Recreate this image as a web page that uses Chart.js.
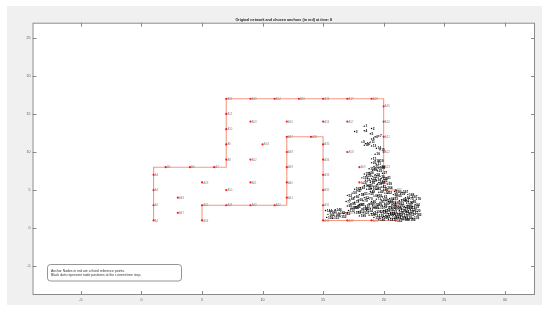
<!DOCTYPE html>
<html>
<head>
<meta charset="utf-8">
<script src="https://cdn.jsdelivr.net/npm/chart.js@4/dist/chart.umd.min.js"></script>
<style>
  html, body { margin: 0; padding: 0; background: #fff; }
  canvas { display: block; }
</style>
</head>
<body>
<canvas id="chart" width="550" height="313"></canvas>
<script>
const TITLE = 'Original network and chosen anchors (in red) at time: 8'
const NOTE_LINES = [
  'Anchor Nodes in red are a fixed reference points.',
  'Black dots represent node positions at the current time step.'
]

const X_TICKS = [-5, 0, 5, 10, 15, 20, 25, 30]
const Y_TICKS = [-5, 0, 5, 10, 15, 20, 25]

// corridor outline (red line)
const PATH_X = [1, 1, 7, 7, 20, 20, 21, 21, 15, 15, 12, 12, 5, 5]
const PATH_Y = [1, 8, 8, 17, 17, 5, 5, 1, 1, 12, 12, 3, 3, 1]

// anchors (red)
const ANCHOR_X = [1, 1, 1, 1, 2, 4, 6, 7, 7, 7, 7, 7, 9, 11, 13, 15, 17, 19, 20, 20, 20, 20, 20, 20, 21, 21, 21, 19, 17, 15, 15, 15, 15, 15, 15, 14, 12, 12, 12, 12, 12, 11, 9, 7, 5, 5,
  3, 3, 5, 7, 9, 9, 9, 10, 12, 15, 17, 17, 18, 18, 17]
const ANCHOR_Y = [1, 3, 5, 7, 8, 8, 8, 9, 11, 13, 15, 17, 17, 17, 17, 17, 17, 17, 16, 14, 12, 10, 8, 6, 5, 3, 1, 1, 1, 1, 3, 5, 7, 9, 11, 12, 12, 10, 8, 6, 4, 3, 3, 3, 3, 1,
  2, 4, 6, 5, 6, 9, 14, 11, 14, 14, 14, 10, 8, 6, 2]

// nodes (black) at the current time step
const NODE_X = [
  18.4, 19.0, 17.6, 18.4, 18.9, 19.3, 19.6, 19.0, 18.2, 18.5, 18.9, 18.4, 19.0, 19.4, 19.7, 19.3, 19.0, 19.3, 19.6, 19.0, 19.4, 19.2, 19.7,
  19.1, 19.5, 18.8, 19.9, 19.3, 18.6, 19.7, 20.2, 19.0, 18.5, 19.4, 19.9, 18.9, 18.3, 19.5, 20.3, 18.7, 19.2, 19.8, 18.1, 18.6, 19.4, 20.0, 17.8, 18.9, 19.6, 17.4, 18.3, 20.3, 17.0,
  18.0, 18.8, 19.5, 20.1, 20.8, 21.4,
  17.6, 18.4, 19.2, 19.9, 20.5, 21.1, 21.8, 22.4,
  17.2, 17.9, 18.7, 19.4, 20.2, 20.8, 21.5, 22.1, 22.7,
  16.9, 17.6, 18.3, 19.0, 19.7, 20.4, 21.0, 21.7, 22.3,
  17.3, 18.0, 18.8, 19.5, 20.1, 20.7, 21.3, 22.0, 22.6,
  17.0, 17.7, 18.5, 19.2, 19.9, 20.5, 21.2, 21.8, 22.4,
  17.4, 18.2, 18.9, 19.6, 20.3, 20.9, 21.5, 22.1,
  17.1, 17.9, 18.6, 19.3, 20.0, 20.6, 21.3, 21.9, 22.5,
  18.3, 19.0, 19.8, 20.4, 21.1, 21.7, 22.3,
  18.8, 19.5, 20.2, 20.8, 21.4, 22.0,
  19.2, 19.9, 20.6, 21.2, 21.8, 22.4,
  19.6, 20.4, 21.0, 21.6,
  15.2, 15.6, 16.0, 15.4, 15.9, 16.3, 15.3, 15.8, 16.4, 16.7,
  18.8, 19.6, 18.4, 19.1, 19.8, 18.2, 18.9, 19.6, 18.4, 19.0, 20.2, 17.6,
  20.9, 21.5, 22.0, 19.8, 20.5, 21.3, 21.9, 19.1, 20.2, 21.0, 21.7, 22.2, 19.7, 20.4, 21.0, 21.6, 22.6,
  20.0, 20.9, 21.5, 22.1, 18.3, 17.6, 18.0, 17.3, 17.9
]
const NODE_Y = [
  13.4, 13.1, 12.7, 12.8, 12.4, 12.0, 12.1, 11.7, 11.3, 11.1, 11.3, 10.9, 10.8, 10.5, 10.3, 9.7, 9.1, 8.9, 8.8, 8.6, 8.4, 8.1, 8.0,
  7.6, 7.5, 7.3, 7.2, 7.0, 6.9, 6.8, 6.6, 6.5, 6.3, 6.3, 6.2, 6.0, 5.9, 5.8, 5.8, 5.6, 5.5, 5.4, 5.3, 5.1, 5.1, 5.0, 4.9, 4.8, 4.7, 4.6, 4.5, 4.6, 4.3,
  4.4, 4.5, 4.3, 4.6, 4.4, 4.5,
  4.1, 4.0, 4.2, 4.1, 3.9, 4.2, 4.0, 4.1,
  3.8, 3.7, 3.9, 3.8, 3.6, 3.8, 3.7, 3.9, 3.8,
  3.5, 3.4, 3.6, 3.5, 3.4, 3.5, 3.3, 3.6, 3.4,
  3.2, 3.1, 3.2, 3.0, 3.2, 3.1, 3.2, 3.0, 3.1,
  2.9, 2.8, 2.9, 2.7, 2.9, 2.8, 2.9, 2.7, 2.8,
  2.6, 2.5, 2.6, 2.6, 2.4, 2.6, 2.5, 2.6,
  2.3, 2.2, 2.3, 2.2, 2.3, 2.1, 2.3, 2.2, 2.3,
  2.0, 1.9, 2.0, 1.9, 2.0, 1.9, 2.0,
  1.7, 1.6, 1.7, 1.7, 1.6, 1.7,
  1.4, 1.4, 1.3, 1.4, 1.4, 1.3,
  1.1, 1.1, 1.0, 1.1,
  2.3, 2.1, 2.4, 1.8, 1.7, 2.0, 1.4, 1.3, 1.5, 1.9,
  7.8, 7.9, 7.1, 6.8, 6.5, 6.6, 6.2, 6.0, 5.6, 5.2, 5.3, 5.1,
  4.8, 4.7, 4.4, 3.7, 3.3, 3.6, 3.3, 3.0, 2.7, 2.5, 2.8, 2.4, 2.2, 1.9, 1.7, 2.1, 1.8,
  1.5, 1.3, 1.2, 1.1, 2.5, 2.0, 1.6, 2.6, 3.0
]

function toPoints(xs, ys) {
  return xs.map((x, i) => ({ x, y: ys[i] }))
}

const AXIS_COLOR = '#8a8a8a'
const PANEL_COLOR = '#f0f0f0'
const FONT_FAMILY = '"Liberation Sans", Arial, sans-serif'

// figure background + white axes box
const backgroundPlugin = {
  id: 'background',
  beforeDraw(chart) {
    const { ctx, chartArea: a } = chart
    ctx.save()
    ctx.fillStyle = '#ffffff'
    ctx.fillRect(0, 0, chart.width, chart.height)
    ctx.fillStyle = PANEL_COLOR
    ctx.fillRect(7, 6, 535, 299)
    ctx.fillStyle = '#ffffff'
    ctx.fillRect(a.left, a.top, a.right - a.left, a.bottom - a.top)
    ctx.restore()
  }
}

// box with inward ticks on all four sides, title centred over the axes
const boxTicksPlugin = {
  id: 'boxTicks',
  afterDraw(chart) {
    const { ctx, chartArea: a, scales } = chart
    const len = 4
    ctx.save()
    ctx.strokeStyle = AXIS_COLOR
    ctx.lineWidth = 1
    ctx.strokeRect(a.left + 0.5, a.top + 0.5, a.right - a.left - 1, a.bottom - a.top - 1)
    ctx.beginPath()
    scales.x.ticks.forEach(t => {
      const px = Math.round(scales.x.getPixelForValue(t.value)) + 0.5
      ctx.moveTo(px, a.bottom); ctx.lineTo(px, a.bottom - len)
      ctx.moveTo(px, a.top); ctx.lineTo(px, a.top + len)
    })
    scales.y.ticks.forEach(t => {
      const py = Math.round(scales.y.getPixelForValue(t.value)) + 0.5
      ctx.moveTo(a.left, py); ctx.lineTo(a.left + len, py)
      ctx.moveTo(a.right, py); ctx.lineTo(a.right - len, py)
    })
    ctx.stroke()

    ctx.fillStyle = '#222'
    ctx.font = 'bold 3.7px ' + FONT_FAMILY
    ctx.textAlign = 'center'
    ctx.textBaseline = 'middle'
    ctx.fillText(TITLE, (a.left + a.right) / 2, 19.8)
    ctx.restore()
  }
}

// tiny labels next to points
const pointLabelsPlugin = {
  id: 'pointLabels',
  afterDatasetsDraw(chart) {
    const { ctx } = chart
    ctx.save()
    ctx.textBaseline = 'middle'
    chart.data.datasets.forEach((ds, di) => {
      if (!ds.pointLabels) return
      const meta = chart.getDatasetMeta(di)
      ctx.fillStyle = ds.pointLabelColor
      ctx.font = ds.pointLabelFont
      meta.data.forEach((el, i) => {
        ctx.fillText(ds.pointLabels[i], el.x + 1.2, el.y + 0.3)
      })
    })
    ctx.restore()
  }
}

// annotation text box (bottom left)
const noteBoxPlugin = {
  id: 'noteBox',
  afterDraw(chart) {
    const { ctx } = chart
    const x = 47.5, y = 264.5, w = 134, h = 16.5
    ctx.save()
    ctx.fillStyle = '#ffffff'
    ctx.strokeStyle = '#7a7a7a'
    ctx.lineWidth = 0.8
    ctx.beginPath()
    ctx.roundRect(x, y, w, h, 3)
    ctx.fill()
    ctx.stroke()
    ctx.fillStyle = '#333'
    ctx.font = '3.4px ' + FONT_FAMILY
    ctx.textBaseline = 'middle'
    NOTE_LINES.forEach((line, i) => ctx.fillText(line, 51, 270.6 + i * 4.7))
    ctx.restore()
  }
}

const tickFont = { size: 3.6, family: FONT_FAMILY }

const config = {
  type: 'scatter',
  data: {
    datasets: [
      {
        label: 'path',
        data: toPoints(PATH_X, PATH_Y),
        showLine: true,
        borderColor: 'rgba(240, 110, 80, 0.7)',
        borderWidth: 1.1,
        pointRadius: 0,
        order: 3
      },
      {
        label: 'nodes',
        data: toPoints(NODE_X, NODE_Y),
        pointRadius: 0.7,
        pointBackgroundColor: '#000',
        pointBorderWidth: 0,
        pointLabels: NODE_X.map((_, i) => String(i + 1)),
        pointLabelColor: '#000',
        pointLabelFont: 'bold 3.2px ' + FONT_FAMILY,
        order: 2
      },
      {
        label: 'anchors',
        data: toPoints(ANCHOR_X, ANCHOR_Y),
        pointRadius: 1.1,
        pointBackgroundColor: '#ff1a1a',
        pointBorderWidth: 0,
        pointLabels: ANCHOR_X.map((_, i) => 'A' + (i + 1)),
        pointLabelColor: '#888',
        pointLabelFont: '2.8px ' + FONT_FAMILY,
        order: 1
      }
    ]
  },
  options: {
    responsive: false,
    animation: false,
    layout: { padding: { left: 0, right: 15, top: 22.7, bottom: 0 } },
    plugins: {
      legend: { display: false },
      tooltip: { enabled: false },
      title: { display: false }
    },
    scales: {
      x: {
        type: 'linear',
        min: -9,
        max: 32.5,
        afterBuildTicks: s => { s.ticks = X_TICKS.map(value => ({ value })) },
        afterFit: s => { s.height = 18 },
        grid: { display: false, drawTicks: false },
        border: { display: false },
        ticks: { font: tickFont, color: '#555', padding: 2.5, maxRotation: 0 }
      },
      y: {
        type: 'linear',
        min: -8.8,
        max: 27,
        afterBuildTicks: s => { s.ticks = Y_TICKS.map(value => ({ value })) },
        afterFit: s => { s.width = 32.5 },
        grid: { display: false, drawTicks: false },
        border: { display: false },
        ticks: { font: tickFont, color: '#555', padding: 2 }
      }
    }
  },
  plugins: [backgroundPlugin, pointLabelsPlugin, boxTicksPlugin, noteBoxPlugin]
}

new Chart(document.getElementById('chart').getContext('2d'), config)
</script>
</body>
</html>
